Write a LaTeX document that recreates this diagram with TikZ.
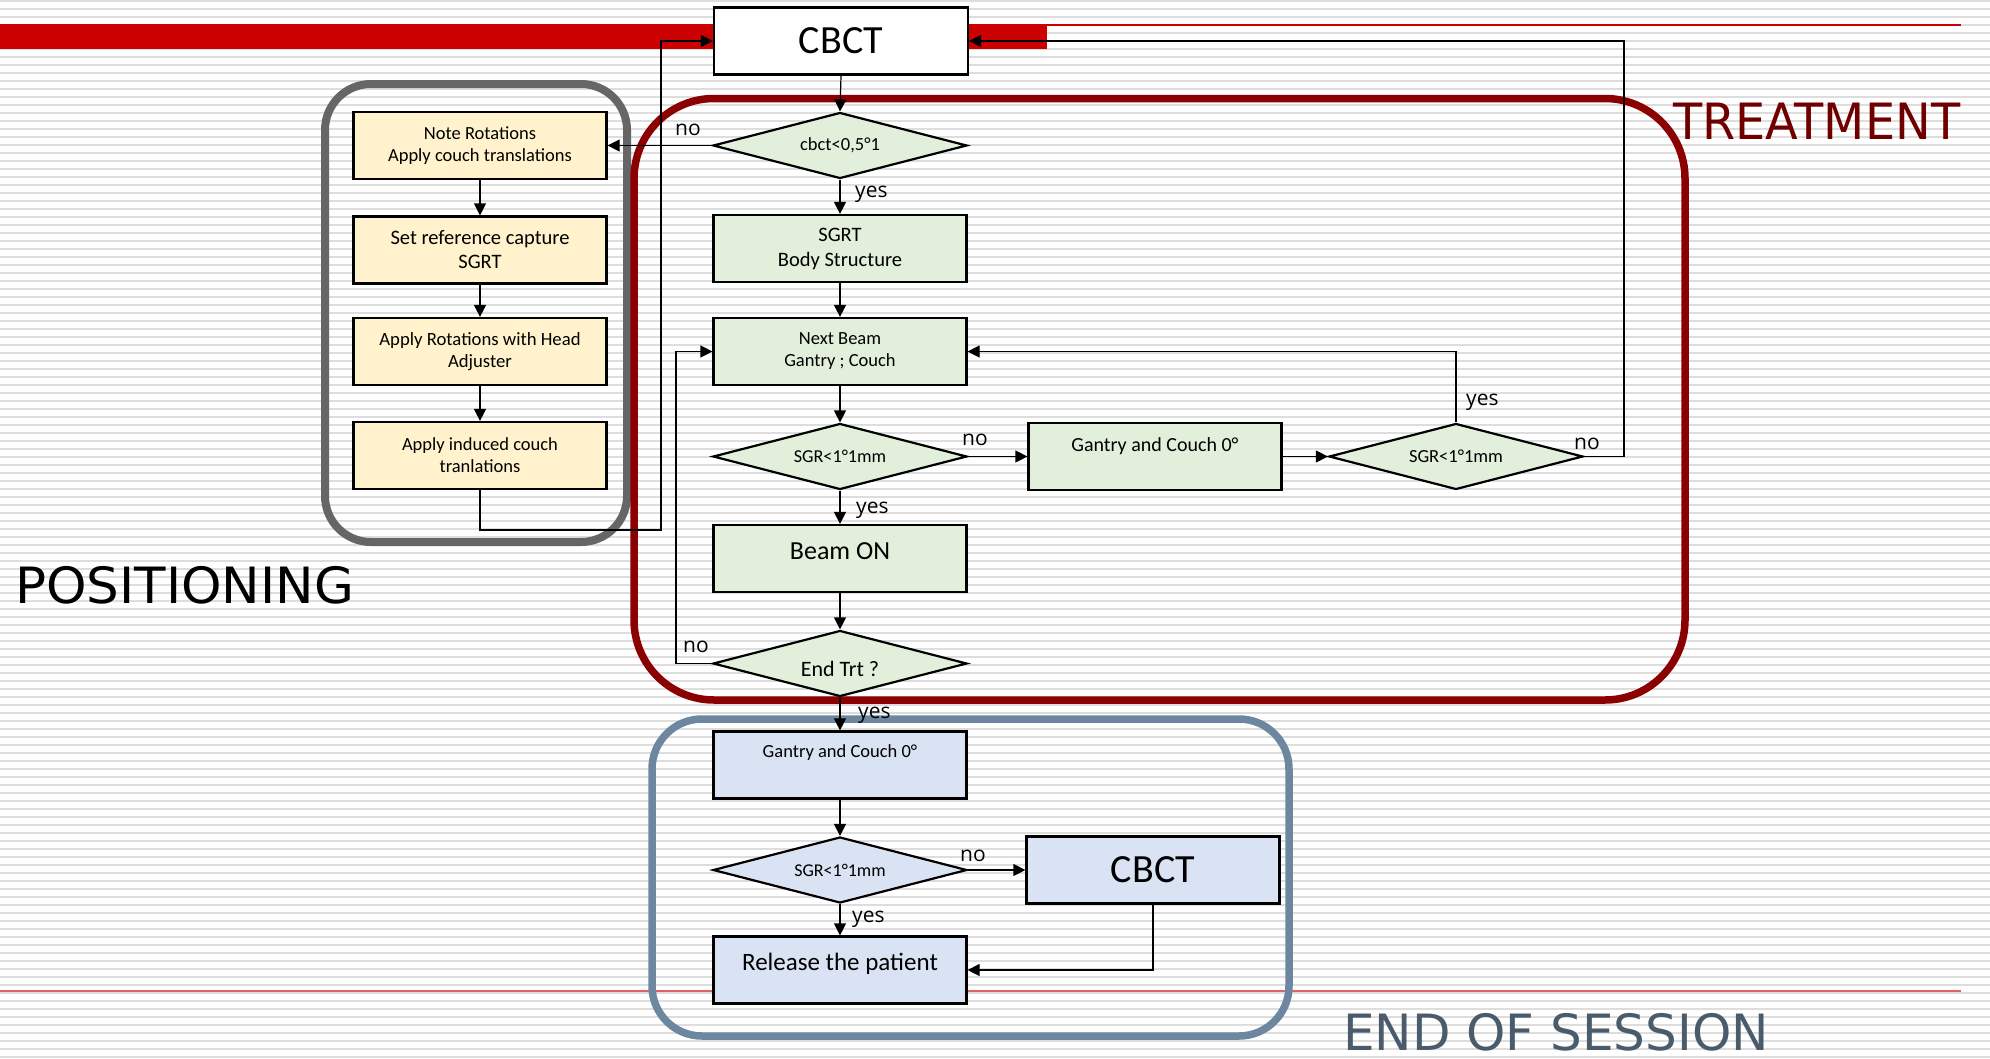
\documentclass[tikz,border=0pt]{standalone}
\usepackage{fontspec}
\usepackage{graphicx}
\setmainfont{Carlito}
\newfontfamily\dejavu{DejaVu Sans}
\newfontfamily\opensans{Open Sans}
\usetikzlibrary{shapes.geometric,arrows.meta}
\definecolor{stripe}{HTML}{DDDDDD}
\definecolor{redbar}{HTML}{CC0000}
\definecolor{redthin}{HTML}{DD6166}
\definecolor{frgrey}{HTML}{666666}
\definecolor{frred}{HTML}{8B0000}
\definecolor{frblue}{HTML}{6E87A0}
\definecolor{txtred}{HTML}{700000}
\definecolor{txtblue}{HTML}{4A5B6B}
\definecolor{yel}{HTML}{FFF2CC}
\definecolor{grn}{HTML}{E2EFDA}
\definecolor{blu}{HTML}{DAE3F3}
\newcommand{\fs}[2]{\fontsize{#1}{#2}\selectfont}
\begin{document}
\begin{tikzpicture}[x=1pt,y=-1pt,
  box/.style={draw=black, line width=2.2pt, minimum width=253pt, minimum height=67pt, inner sep=0pt, align=center},
  ybox/.style={box, fill=yel},
  gbox/.style={box, fill=grn},
  bbox/.style={box, fill=blu},
  dia/.style={diamond, draw=black, line width=2.2pt, minimum width=254pt, minimum height=66pt, aspect=3.85, inner sep=0pt, align=center},
  gdia/.style={dia, fill=grn},
  bdia/.style={dia, fill=blu},
  conn/.style={draw=black, line width=1.2pt, -{Triangle[length=12pt,width=12pt]}},
  yn/.style={anchor=base west, inner sep=0pt, font={\opensans\fontsize{21}{25}\selectfont}},
  txt/.style={inner sep=0pt, align=center},
  title/.style={anchor=base west, inner sep=0pt, font={\dejavu\fontsize{50}{60}\selectfont}},
  frame/.style={line width=7.5pt, rounded corners=#1}
]
\useasboundingbox (0,0) rectangle (1990,1058);
\fill[white] (0,0) rectangle (1990,1058);
\foreach \k in {0,...,132} {\fill[stripe] (0,{8*\k}) rectangle (1990,{8*\k+2});}
\fill[redbar] (0,24) rectangle (1047,49);
\fill[redbar] (1047,24) rectangle (1961,26);
\fill[redthin] (0,990) rectangle (1961,992);

% group frames
\draw[frame=46pt, draw=frgrey, line width=8pt] (325,84) rectangle (627,542);
\draw[frame=80pt, draw=frred] (634,98.5) rectangle (1685,700);
\draw[frame=50pt, draw=frblue] (652,719) rectangle (1289,1036);

% nodes
\node[box, fill=white, minimum width=254pt, font=\fs{40}{48}] (cbct) at (841,41) {CBCT};

\node[ybox, font=\fs{18.5}{22}] (p1) at (480,145.5) {Note Rotations\\Apply couch translations};
\node[ybox, font=\fs{20.5}{24}] (p2) at (480,250) {Set reference capture\\SGRT};
\node[ybox, font=\fs{18.7}{22}] (p3) at (480,351.5) {Apply Rotations with Head\\Adjuster};
\node[ybox, font=\fs{18.5}{22}] (p4) at (480,455.5) {Apply induced couch\\tranlations};

\node[gdia, font=\fs{18.5}{22}] (d1) at (840,145.5) {cbct<0,5°1};
\node[gbox, font=\fs{20.5}{25}] (sgrt) at (840,248.5) {SGRT\\Body Structure};
\node[gbox, font=\fs{18.5}{22}] (next) at (840,351.5) {Next Beam\\Gantry ; Couch};
\node[gdia, font=\fs{18.2}{22}] (d2) at (840,456.5) {SGR<1°1mm};
\node[gbox] (beam) at (840,558.5) {};
\node[txt, font=\fs{26}{31}] (beamtxt) at ([yshift=7pt]beam.center) {Beam ON};
\node[gdia] (d3) at (840,663.5) {};
\node[txt, font=\fs{22}{26}] (d3txt) at ([yshift=-5pt]d3.center) {End Trt ?};
\node[gbox] (gantryg) at (1155,456.5) {};
\node[txt, font=\fs{20}{24}] (gantrygtxt) at ([yshift=10pt]gantryg.center) {Gantry and Couch 0°};
\node[gdia, font=\fs{18.5}{22}] (d4) at (1456,456.5) {SGR<1°1mm};

\node[bbox] (gantryb) at (840,765) {};
\node[txt, font=\fs{18.5}{22}] (gantrybtxt) at ([yshift=12pt]gantryb.center) {Gantry and Couch 0°};
\node[bdia, font=\fs{18}{22}] (d5) at (840,870) {SGR<1°1mm};
\node[bbox, font=\fs{40}{48}] (cbct2) at (1153,870) {CBCT};
\node[bbox] (release) at (840,970) {};
\node[txt, font=\fs{25}{30}] (releasetxt) at ([yshift=6pt]release.center) {Release the patient};

% waypoints
\coordinate (c1) at (661,530);
\coordinate (c3) at (676,600);
\coordinate (c4) at (1624,300);

% connectors
\draw[conn] (cbct.south) -- (d1.north);
\draw[conn] (d1.west) -- (p1.east);
\draw[conn] (d1.south) -- (sgrt.north);
\draw[conn] (sgrt.south) -- (next.north);
\draw[conn] (p1.south) -- (p2.north);
\draw[conn] (p2.south) -- (p3.north);
\draw[conn] (p3.south) -- (p4.north);
\draw[conn] (p4.south) |- (c1) |- (cbct.west);
\draw[conn] (next.south) -- (d2.north);
\draw[conn] (d2.east) -- (gantryg.west);
\draw[conn] (gantryg.east) -- (d4.west);
\draw[conn] (d4.north) |- (next.east);
\draw[conn] (d4.east) -| (c4) |- (cbct.east);
\draw[conn] (d2.south) -- (beam.north);
\draw[conn] (beam.south) -- (d3.north);
\draw[conn] (d3.west) -| (c3) |- (next.west);
\draw[conn] (d3.south) -- (gantryb.north);
\draw[conn] (gantryb.south) -- (d5.north);
\draw[conn] (d5.east) -- (cbct2.west);
\draw[conn] (d5.south) -- (release.north);
\draw[conn] (cbct2.south) |- (release.east);

% yes / no labels
\node[yn] (noA) at (675,135) {no};
\node[yn] (yesA) at (855,197) {yes};
\node[yn] (noB) at (962,445) {no};
\node[yn] (yesB) at (856,513) {yes};
\node[yn] (yesC) at (1466,405) {yes};
\node[yn] (noC) at (1574,449) {no};
\node[yn] (noD) at (683,652) {no};
\node[yn] (yesD) at (858,718) {yes};
\node[yn] (noE) at (960,861) {no};
\node[yn] (yesE) at (852,922) {yes};

% titles
\node[title] (positioning) at (15,603) {\scalebox{1.03}[1]{POSITIONING}};
\node[title, text=txtred] (treatment) at (1673,139) {\scalebox{0.955}[1]{TREATMENT}};
\node[title, text=txtblue] (endsession) at (1343,1050) {\scalebox{1.0}[1]{END OF SESSION}};
\end{tikzpicture}
\end{document}
